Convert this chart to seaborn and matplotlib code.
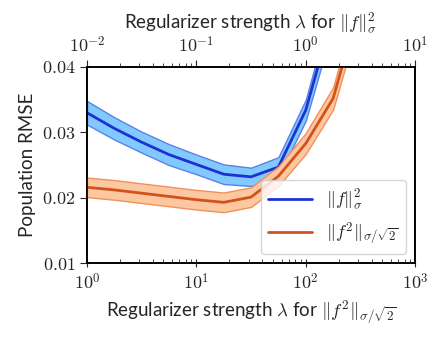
import numpy as np
import pandas as pd
import matplotlib
matplotlib.use("Agg")
import matplotlib.pyplot as plt
import seaborn as sns
from matplotlib.ticker import FuncFormatter, FixedLocator

# ==========================================
# DATA
# ==========================================
# blue curve, plotted against the top axis (lambda for ||f||^2_sigma)
lam_sigma = [0.01, 0.0178, 0.0316, 0.0562, 0.1, 0.178, 0.316, 0.562, 1.0, 1.78]
rmse_sigma = [0.0330, 0.0306, 0.0285, 0.0266, 0.0251, 0.0236, 0.0232, 0.0247, 0.0334, 0.0483]
band_sigma = [0.0018, 0.0017, 0.0016, 0.0016, 0.0015, 0.0015, 0.0014, 0.0015, 0.0016, 0.0020]

# orange curve, plotted against the bottom axis (lambda for ||f^2||_{sigma/sqrt2})
lam_sq = [1, 1.78, 3.16, 5.62, 10, 17.8, 31.6, 56.2, 100, 178, 316]
rmse_sq = [0.0216, 0.0212, 0.0207, 0.0202, 0.0197, 0.0193, 0.0201, 0.0233, 0.0283, 0.0352, 0.0500]
band_sq = [0.0015, 0.0015, 0.0015, 0.0015, 0.0015, 0.0015, 0.0015, 0.0015, 0.0016, 0.0017, 0.0020]

y_ticks = [0.01, 0.02, 0.03, 0.04]

BLUE = "#1c33d0"
BLUE_FILL = "#82c9ff"
BLUE_EDGE = "#5a82e6"
ORANGE = "#d2521e"
ORANGE_FILL = "#fdc8a0"
ORANGE_EDGE = "#f0915c"

# ==========================================
# STYLE
# ==========================================
sns.set_style("ticks")
plt.rcParams["font.family"] = ["Lato", "DejaVu Sans"]
plt.rcParams["mathtext.fontset"] = "cm"
plt.rcParams["font.size"] = 12

df_sigma = pd.DataFrame({"lam": lam_sigma, "rmse": rmse_sigma, "band": band_sigma})
df_sq = pd.DataFrame({"lam": lam_sq, "rmse": rmse_sq, "band": band_sq})

fig = plt.figure(figsize=(4.44, 3.4), dpi=100)
ax = fig.add_axes([0.196, 0.226, 0.739, 0.577])
ax2 = ax.twiny()
# orange (bottom axis) is drawn above the blue (top axis)
ax.set_zorder(ax2.get_zorder() + 1)
ax.patch.set_visible(False)

# blue: top axis
ax2.fill_between(df_sigma["lam"], df_sigma["rmse"] - df_sigma["band"], df_sigma["rmse"] + df_sigma["band"],
                 facecolor=BLUE_FILL, edgecolor=BLUE_EDGE, linewidth=1.0, zorder=1)
sns.lineplot(data=df_sigma, x="lam", y="rmse", color=BLUE, linewidth=2, ax=ax2,
             label=r"$\|f\|_\sigma^2$", legend=False, zorder=2)
ax2.set_xscale("log")
ax2.set_xlim(1e-2, 1e1)
ax2.set_ylim(0.01, 0.04)

# orange: bottom axis
ax.fill_between(df_sq["lam"], df_sq["rmse"] - df_sq["band"], df_sq["rmse"] + df_sq["band"],
                facecolor=ORANGE_FILL, edgecolor=ORANGE_EDGE, linewidth=1.0, zorder=1)
sns.lineplot(data=df_sq, x="lam", y="rmse", color=ORANGE, linewidth=2, ax=ax,
             label=r"$\|f^2\|_{\sigma/\sqrt{2}}$", legend=False, zorder=2)
ax.set_xscale("log")
ax.set_xlim(1, 1e3)
ax.set_ylim(0.01, 0.04)

# ticks and labels
pow_fmt = FuncFormatter(lambda v, p: r"$10^{%d}$" % int(round(np.log10(v))))
ax.xaxis.set_major_formatter(pow_fmt)
ax2.xaxis.set_major_formatter(pow_fmt)
ax.yaxis.set_major_locator(FixedLocator(y_ticks))
ax.set_yticklabels([r"$%.2f$" % v for v in y_ticks])

ax.tick_params(axis="x", which="major", direction="inout", length=6, labelsize=13)
ax.tick_params(axis="x", which="minor", direction="in", length=3)
ax.tick_params(axis="y", which="major", direction="out", length=5, labelsize=13)
ax2.tick_params(axis="x", which="major", direction="out", length=5, labelsize=13)
ax2.tick_params(axis="x", which="minor", direction="out", length=3)

ax.set_xlabel(r"Regularizer strength $\lambda$ for $\|f^2\|_{\sigma/\sqrt{2}}$", fontsize=13.5)
ax2.set_xlabel(r"Regularizer strength $\lambda$ for $\|f\|_\sigma^2$", fontsize=13.5)
ax.set_ylabel("Population RMSE", fontsize=13.5)

for a in (ax, ax2):
    for s in a.spines.values():
        s.set_linewidth(1.2)
        s.set_color("black")

h1, l1 = ax2.get_legend_handles_labels()
h2, l2 = ax.get_legend_handles_labels()
leg = ax.legend(h1 + h2, l1 + l2, loc="lower right", fontsize=13, handlelength=2.4,
                framealpha=0.8, edgecolor="#cccccc", fancybox=True)

fig.savefig("out.png", dpi=100)
